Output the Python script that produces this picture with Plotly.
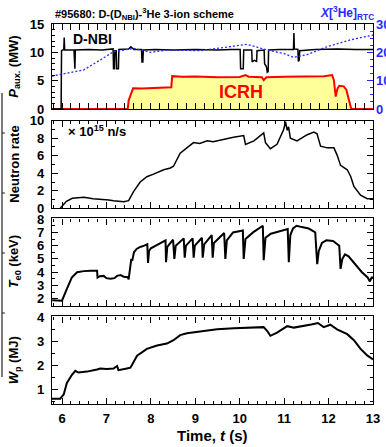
import plotly.graph_objects as go

# ---------------- data ----------------
nbi_t = [5.78, 5.98, 5.99, 6.04, 6.05, 6.06, 6.27, 6.28, 6.29, 6.30, 6.6, 6.9, 7.05, 7.15, 7.16, 7.18, 7.19, 7.22,
         7.23, 7.27, 7.28, 7.5, 7.55, 7.62, 7.79, 7.80, 7.82, 7.83, 8.1, 8.5, 9.0, 9.5, 9.8, 10.01, 10.02, 10.08,
         10.09, 10.27, 10.28, 10.33, 10.38, 10.39, 10.55, 10.56, 10.60, 10.62, 10.64, 10.65, 10.9, 11.21, 11.22,
         11.23, 11.31, 11.32, 11.34, 11.35, 11.7, 12.2, 12.6, 13.0]
nbi_p = [0.0, 0.0, 10.3, 10.5, 12.6, 10.4, 10.4, 7.1, 7.1, 10.4, 10.5, 10.4, 10.6, 10.6, 7.1, 7.1, 10.3, 10.3,
         7.1, 7.1, 10.5, 10.6, 11.0, 10.5, 10.5, 8.3, 8.3, 10.4, 10.5, 10.4, 10.5, 10.4, 10.5, 10.5, 7.1, 7.1,
         10.4, 10.4, 8.3, 8.6, 8.4, 10.3, 10.4, 8.0, 7.5, 6.5, 6.6, 10.4, 10.5, 10.5, 13.4,
         10.6, 10.5, 8.4, 8.6, 10.3, 10.5, 10.6, 10.5, 10.5]

icrh_t = [5.78, 7.48, 7.50, 7.60, 7.8, 8.0, 8.2, 8.46, 8.48, 8.7, 9.0, 9.5, 10.0, 10.13, 10.2, 10.5, 10.54,
          10.6, 11.0, 11.5, 11.9, 12.08, 12.12, 12.16, 12.20, 12.24, 12.34, 12.40, 12.46, 12.51, 13.0]
icrh_p = [0.0, 0.0, 1.5, 3.65, 3.6, 3.7, 3.8, 3.85, 5.8, 5.7, 5.75, 5.6, 5.65, 6.0, 5.7, 5.6, 5.1,
          5.6, 5.7, 5.75, 5.8, 6.0, 5.1, 2.2, 3.6, 4.1, 4.0, 3.4, 1.6, 0.0, 0.0]

x3he_t = [5.77, 6.11, 6.49, 6.86, 7.16, 7.61, 7.99, 8.36, 9.11, 9.87, 10.09, 10.17, 10.62, 10.99, 11.22, 11.29,
          11.52, 11.97, 12.49, 13.0]
x3he_pct = [11.6, 12.6, 13.8, 17.3, 20.2, 21.4, 20.0, 20.8, 20.6, 22.2, 22.8, 22.8, 20.8, 19.6, 18.2, 18.5,
            19.2, 22.0, 24.4, 26.1]

neut_t = [5.96, 6.10, 6.23, 6.49, 6.70, 6.86, 7.05, 7.16, 7.30, 7.39, 7.50, 7.61, 7.76, 7.91, 8.06, 8.29, 8.44,
          8.51, 8.66, 8.82, 8.96, 9.10, 9.27, 9.40, 9.57, 9.70, 9.86, 10.09, 10.13, 10.32, 10.54, 10.58, 10.69,
          10.84, 10.99, 11.03, 11.07, 11.10, 11.14, 11.29, 11.52, 11.67, 11.74, 11.82, 11.97, 12.12, 12.19, 12.27,
          12.42, 12.50, 12.57, 12.72, 12.87, 13.0]
neut_r = [0.0, 0.8, 1.14, 1.25, 1.1, 1.06, 0.95, 0.87, 0.8, 0.76, 0.87, 1.9, 3.0, 3.6, 3.9, 4.4, 4.6,
          4.8, 6.3, 6.9, 7.5, 7.4, 7.7, 7.6, 7.8, 7.9, 8.1, 8.3, 7.3, 7.7, 8.6, 7.5, 6.8,
          7.3, 9.0, 9.9, 8.9, 9.3, 8.0, 7.7, 8.4, 8.7, 8.5, 7.1, 6.9, 6.9, 6.1, 4.9,
          4.4, 3.6, 2.5, 1.5, 1.1, 1.1]

te_t = [5.78, 5.99, 6.0, 6.11, 6.22, 6.34, 6.49, 6.65, 6.79, 6.80, 6.85, 6.94, 7.0, 7.09, 7.18, 7.24, 7.32, 7.39,
        7.48, 7.50, 7.53, 7.56, 7.58, 7.62, 7.68, 7.76, 7.85, 7.92, 7.936, 7.96, 8.0, 8.15, 8.33, 8.342, 8.37,
        8.5, 8.529, 8.56, 8.74, 8.762, 8.79, 8.94, 8.964, 8.99, 9.15, 9.167, 9.2, 9.37, 9.392, 9.42, 9.65, 9.677,
        9.71, 9.85, 10.07, 10.09, 10.13, 10.3, 10.52, 10.54, 10.58, 10.7, 10.9, 11.08, 11.105, 11.14, 11.2,
        11.28, 11.4, 11.55, 11.7, 11.744, 11.78, 11.85, 11.95, 12.1, 12.24, 12.27, 12.31, 12.37, 12.45, 12.6,
        12.75, 12.88, 12.93, 12.97, 13.0]
te_k = [1.88, 1.88, 1.85, 2.75, 3.6, 4.0, 4.08, 4.1, 4.1, 3.6, 3.7, 3.72, 3.55, 3.5, 3.55, 3.72, 3.78, 3.65,
        3.62, 3.45, 4.3, 5.0, 4.85, 5.5, 5.75, 5.9, 6.0, 6.1, 4.7, 5.6, 5.8, 6.1, 6.4, 4.75, 5.9,
        6.45, 5.0, 6.0, 6.55, 5.1, 6.0, 6.55, 5.1, 6.0, 6.6, 5.1, 6.1, 6.8, 5.1, 6.2, 6.95, 5.0,
        6.4, 7.0, 7.15, 5.0, 6.5, 7.0, 7.5, 4.9, 6.6, 6.9, 7.1, 7.25, 4.75, 6.8, 7.3,
        7.5, 7.4, 7.3, 7.0, 4.6, 5.6, 6.2, 6.4, 6.35, 6.0, 4.25, 5.0, 5.35, 5.2, 4.6,
        4.0, 3.6, 3.3, 3.6, 3.6]

wp_t = [5.774, 5.96, 6.04, 6.11, 6.22, 6.30, 6.37, 6.56, 6.79, 6.86, 7.01, 7.16, 7.24, 7.27, 7.46, 7.54, 7.69,
        7.91, 8.14, 8.36, 8.51, 8.66, 8.81, 9.11, 9.49, 9.87, 10.24, 10.54, 10.62, 10.69, 10.84, 11.07, 11.22,
        11.37, 11.61, 11.76, 11.89, 12.04, 12.19, 12.42, 12.57, 12.72, 12.87, 13.0]
wp_mj = [0.62, 0.62, 0.8, 1.27, 1.6, 1.77, 1.7, 1.74, 1.83, 1.87, 1.85, 1.87, 1.97, 1.8, 1.87, 1.9, 2.4,
         2.68, 2.82, 2.9, 3.04, 3.25, 3.33, 3.4, 3.49, 3.53, 3.56, 3.58, 3.42, 3.22, 3.35, 3.62, 3.56,
         3.6, 3.69, 3.75, 3.58, 3.68, 3.49, 3.29, 3.04, 2.68, 2.41, 2.24]

x_ticks = [6, 7, 8, 9, 10, 11, 12, 13]

# ---------------- figure ----------------
FONT = "Liberation Sans, Arial, sans-serif"
BLUE = "#2a2aff"
fig = go.Figure()

fig.add_trace(go.Scatter(x=icrh_t, y=icrh_p, mode="lines", fill="tozeroy", fillcolor="#ffff99",
                         line=dict(color="#ff0000", width=2), xaxis="x", yaxis="y"))
fig.add_trace(go.Scatter(x=x3he_t, y=x3he_pct, mode="lines", line=dict(color=BLUE, width=1.3, dash="2px,2px"),
                         xaxis="x", yaxis="y5"))
fig.add_trace(go.Scatter(x=nbi_t, y=nbi_p, mode="lines", line=dict(color="black", width=1.5),
                         xaxis="x", yaxis="y"))
fig.add_trace(go.Scatter(x=neut_t, y=neut_r, mode="lines", line=dict(color="black", width=1.5),
                         xaxis="x2", yaxis="y2"))
fig.add_trace(go.Scatter(x=te_t, y=te_k, mode="lines", line=dict(color="black", width=2),
                         xaxis="x3", yaxis="y3"))
fig.add_trace(go.Scatter(x=wp_t, y=wp_mj, mode="lines", line=dict(color="black", width=2),
                         xaxis="x4", yaxis="y4"))

tickfont = dict(family=FONT, size=13, color="black", weight="bold")
XR = [5.775, 13.0]


def xax(anchor, labels):
    return dict(range=XR, anchor=anchor, automargin=False, showgrid=False, zeroline=False, showline=True,
                linecolor="black", linewidth=1.2, mirror="allticks", ticks="inside", ticklen=6,
                tickcolor="black", tickvals=x_ticks, showticklabels=labels, tickfont=tickfont,
                ticklabelstandoff=2, minor=dict(dtick=0.2, ticks="inside", ticklen=3, tickcolor="black"))


def yax(dom, rng, dtick, mdtick, anchor, mirror="allticks"):
    return dict(domain=dom, range=rng, anchor=anchor, automargin=False, showgrid=False, zeroline=False,
                showline=True, linecolor="black", linewidth=1.2, mirror=mirror, ticks="inside", ticklen=6,
                tickcolor="black", dtick=dtick, tick0=0, tickfont=tickfont, ticklabelstandoff=4,
                minor=dict(dtick=mdtick, ticks="inside", ticklen=3, tickcolor="black"))


fig.update_layout(
    width=386, height=447, margin=dict(l=52, r=13, t=24, b=43, autoexpand=False),
    paper_bgcolor="white", plot_bgcolor="white", showlegend=False,
    xaxis=xax("y", False), xaxis2=xax("y2", False), xaxis3=xax("y3", False), xaxis4=xax("y4", True),
    yaxis=yax([0.7763, 1.0], [0, 15], 5, 1, "x", mirror=True),
    yaxis2=yax([0.515, 0.7455], [0, 10], 2, 1, "x2"),
    yaxis3=yax([0.2579, 0.4882], [1.45, 8.05], 1, 0.5, "x3"),
    yaxis4=yax([0.0, 0.2303], [0.4, 4.02], 1, 0.5, "x4"),
    yaxis5=dict(overlaying="y", side="right", anchor="x", automargin=False, range=[0, 30], showgrid=False,
                zeroline=False, ticks="inside", ticklen=6, tickcolor=BLUE, tickvals=[0, 10, 20, 30],
                ticksuffix="%", tickfont=dict(family=FONT, size=13, color=BLUE, weight="bold"),
                ticklabelstandoff=2, minor=dict(dtick=2.5, ticks="inside", ticklen=3, tickcolor=BLUE)),
)

ann = []


def yl(text, ycen):
    ann.append(dict(text=text, x=-0.118, y=ycen, xref="paper", yref="paper", showarrow=False, textangle=-90,
                    xanchor="center", yanchor="middle",
                    font=dict(family=FONT, size=13, color="black", weight="bold")))


yl("<i>P</i><sub>aux.</sub> (MW)", (0.7763 + 1.0) / 2)
yl("Neutron rate", (0.515 + 0.7455) / 2)
yl("<i>T</i><sub>e0</sub> (keV)", (0.2579 + 0.4882) / 2)
yl("<i>W</i><sub>p</sub> (MJ)", 0.2303 / 2)

ann.append(dict(text="#95680: D-(D<sub>NBI</sub>)-<sup>3</sup>He 3-ion scheme", x=0.003, y=1.0, xref="paper",
                yref="paper", xanchor="left", yanchor="bottom", showarrow=False,
                font=dict(family=FONT, size=11, color="black", weight="bold")))
ann.append(dict(text="<i>X</i>[<sup>3</sup>He]<sub>RTC</sub>", x=1.008, y=1.0, xref="paper", yref="paper",
                xanchor="right", yanchor="bottom", showarrow=False,
                font=dict(family=FONT, size=12, color=BLUE, weight="bold")))
ann.append(dict(text="D-NBI", x=6.2, y=12.3, xref="x", yref="y", xanchor="left", yanchor="middle",
                showarrow=False, font=dict(family=FONT, size=14, color="black", weight="bold")))
ann.append(dict(text="ICRH", x=10.04, y=3.0, xref="x", yref="y", xanchor="center", yanchor="middle",
                showarrow=False, font=dict(family=FONT, size=18, color="#ff0000", weight="bold")))
ann.append(dict(text="\u00d7 10<sup>15</sup> n/s", x=6.1, y=8.8, xref="x2", yref="y2", xanchor="left",
                yanchor="middle", showarrow=False, font=dict(family=FONT, size=13, color="black", weight="bold")))
ann.append(dict(text="Time, <i>t</i> (s)", x=0.5, y=-0.084, xref="paper", yref="paper", xanchor="center",
                yanchor="middle", showarrow=False, font=dict(family=FONT, size=15, color="black", weight="bold")))
fig.update_layout(annotations=ann)

# crop artefact at the very left edge of the picture
XL = (2 - 52) / 321
shapes = [dict(type="line", xref="paper", yref="paper", x0=XL, x1=XL, y0=(404 - 93) / 380,
               y1=(404 - 377) / 380, line=dict(color="#222222", width=1.2), layer="above")]
for py in [133, 193, 253, 313]:
    shapes.append(dict(type="line", xref="paper", yref="paper", x0=XL, x1=XL + 0.009, y0=(404 - py) / 380,
                       y1=(404 - py) / 380, line=dict(color="#222222", width=1), layer="above"))
fig.update_layout(shapes=shapes)

fig.write_html("out.html", config={"displayModeBar": False},
               post_script="document.body.style.margin='0';document.body.style.padding='0';"
                           "document.body.style.overflow='hidden';")
